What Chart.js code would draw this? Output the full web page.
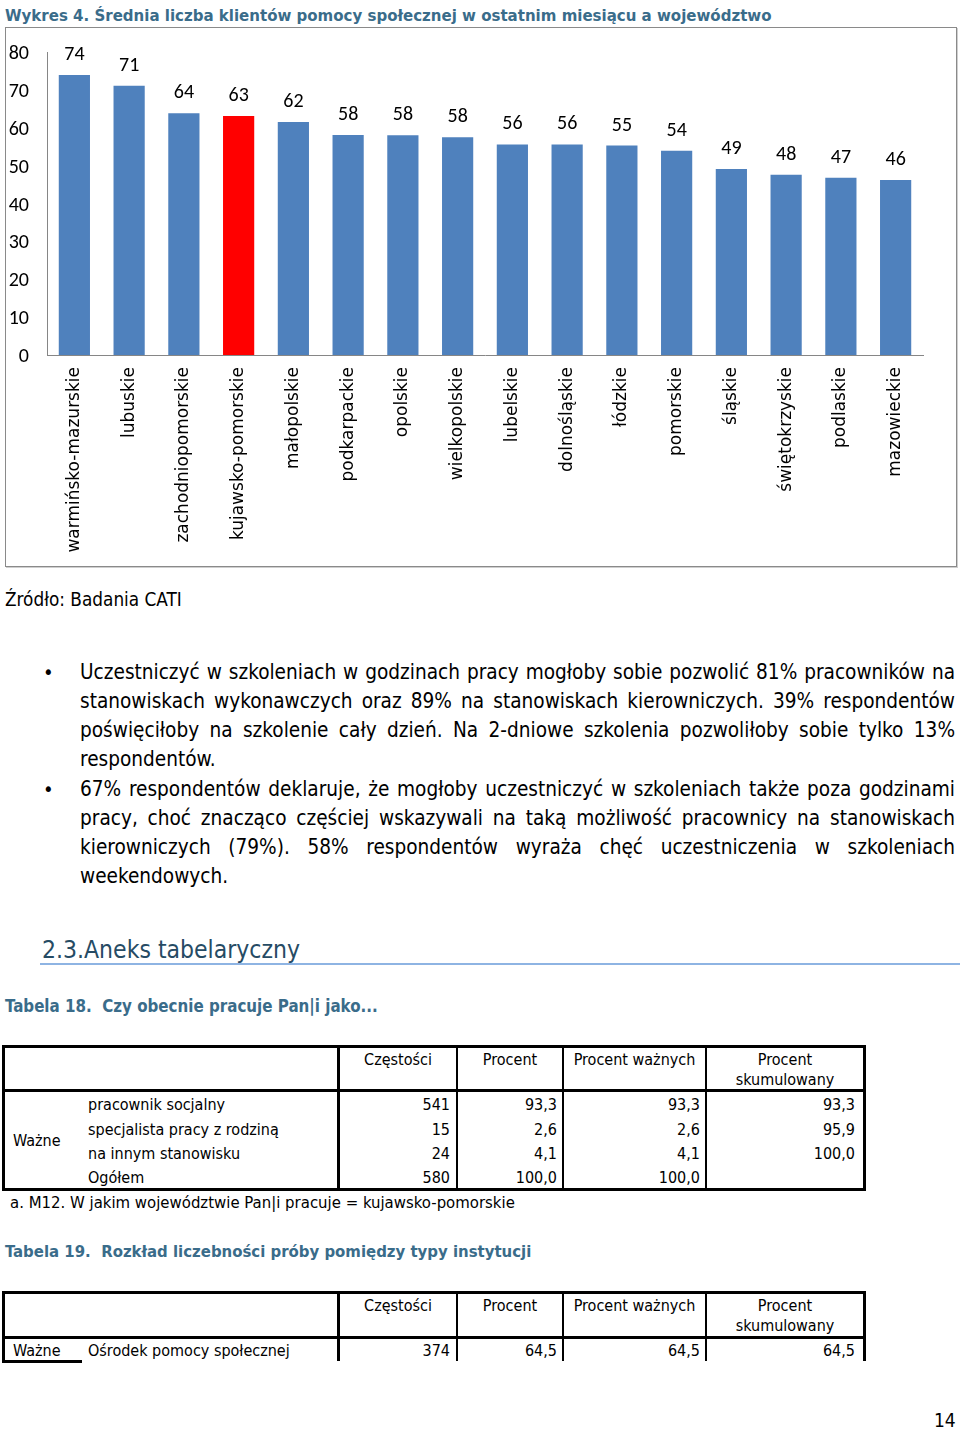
<!DOCTYPE html>
<html><head><meta charset="utf-8">
<script src="https://cdn.jsdelivr.net/npm/chart.js@4.4.1/dist/chart.umd.min.js"></script>
<style>
html,body{margin:0;padding:0;background:#fff;}
body{width:960px;height:1431px;position:relative;overflow:hidden;font-family:"DejaVu Sans",sans-serif;font-stretch:condensed;color:#000;}
.a{position:absolute;white-space:nowrap;}
.ttl{color:#3A6C8A;font-weight:bold;}
.frame{position:absolute;left:5px;top:27px;width:950px;height:538px;border:1px solid #8a8a8a;box-shadow:1px 1px 0 #cfcfcf;}
#cv{position:absolute;left:6px;top:28px;}
.ln{position:absolute;font-size:20.6px;line-height:29px;width:875px;left:80px;white-space:normal;}
.j{text-align:justify;text-align-last:justify;}
.bl{position:absolute;left:43px;font-size:20px;line-height:29px;}
.k{position:absolute;background:#000;}
.t{position:absolute;font-size:16px;line-height:20px;white-space:nowrap;}
.c{text-align:center;}
.r{text-align:right;}
</style></head><body>

<div class="a ttl" style="left:5px;top:5px;font-size:16.7px;line-height:20px;">Wykres 4. Średnia liczba klientów pomocy społecznej w ostatnim miesiącu a województwo</div>
<div class="frame"></div>
<canvas id="cv" width="950" height="538" style="width:950px;height:538px;"></canvas>

<div class="a" style="left:5px;top:589px;font-size:18.8px;line-height:22px;">Źródło: Badania CATI</div>

<div class="bl" style="top:658px;">•</div>
<div class="ln j" style="top:658px;">Uczestniczyć w szkoleniach w godzinach pracy mogłoby sobie pozwolić 81% pracowników na</div>
<div class="ln j" style="top:687px;">stanowiskach wykonawczych oraz 89% na stanowiskach kierowniczych. 39% respondentów</div>
<div class="ln j" style="top:716px;">poświęciłoby na szkolenie cały dzień. Na 2-dniowe szkolenia pozwoliłoby sobie tylko 13%</div>
<div class="ln" style="top:745px;">respondentów.</div>
<div class="bl" style="top:775px;">•</div>
<div class="ln j" style="top:775px;">67% respondentów deklaruje, że mogłoby uczestniczyć w szkoleniach także poza godzinami</div>
<div class="ln j" style="top:804px;">pracy, choć znacząco częściej wskazywali na taką możliwość pracownicy na stanowiskach</div>
<div class="ln j" style="top:833px;">kierowniczych (79%). 58% respondentów wyraża chęć uczestniczenia w szkoleniach</div>
<div class="ln" style="top:862px;">weekendowych.</div>

<div class="a" style="left:42px;top:934px;font-size:24.5px;line-height:32px;color:#264B64;">2.3.Aneks tabelaryczny</div>
<div class="a" style="left:40px;top:963px;width:920px;height:2px;background:#8EB4E3;"></div>

<div class="a ttl" style="left:5px;top:996px;font-size:16.8px;line-height:20px;">Tabela 18.&nbsp; Czy obecnie pracuje Pan|i jako...</div>

<!-- Table 18 -->
<div class="a" style="left:2px;top:1045px;width:864px;height:146px;border:3px solid #000;box-sizing:border-box;"></div>
<div class="k" style="left:2px;top:1089px;width:864px;height:3px;"></div>
<div class="k" style="left:337px;top:1045px;width:3px;height:146px;"></div>
<div class="k" style="left:456px;top:1045px;width:2px;height:146px;"></div>
<div class="k" style="left:562px;top:1045px;width:2px;height:146px;"></div>
<div class="k" style="left:705px;top:1045px;width:2px;height:146px;"></div>
<div class="t c" style="left:340px;width:116px;top:1050px;">Częstości</div>
<div class="t c" style="left:458px;width:104px;top:1050px;">Procent</div>
<div class="t c" style="left:564px;width:141px;top:1050px;">Procent ważnych</div>
<div class="t c" style="left:707px;width:156px;top:1050px;">Procent<br>skumulowany</div>
<div class="t" style="left:13px;top:1131px;">Ważne</div>
<div class="t" style="left:88px;top:1095px;">pracownik socjalny</div>
<div class="t" style="left:88px;top:1120px;">specjalista pracy z rodziną</div>
<div class="t" style="left:88px;top:1144px;">na innym stanowisku</div>
<div class="t" style="left:88px;top:1168px;">Ogółem</div>
<div class="t r" style="left:340px;width:110px;top:1095px;">541</div>
<div class="t r" style="left:340px;width:110px;top:1120px;">15</div>
<div class="t r" style="left:340px;width:110px;top:1144px;">24</div>
<div class="t r" style="left:340px;width:110px;top:1168px;">580</div>
<div class="t r" style="left:458px;width:99px;top:1095px;">93,3</div>
<div class="t r" style="left:458px;width:99px;top:1120px;">2,6</div>
<div class="t r" style="left:458px;width:99px;top:1144px;">4,1</div>
<div class="t r" style="left:458px;width:99px;top:1168px;">100,0</div>
<div class="t r" style="left:564px;width:136px;top:1095px;">93,3</div>
<div class="t r" style="left:564px;width:136px;top:1120px;">2,6</div>
<div class="t r" style="left:564px;width:136px;top:1144px;">4,1</div>
<div class="t r" style="left:564px;width:136px;top:1168px;">100,0</div>
<div class="t r" style="left:707px;width:148px;top:1095px;">93,3</div>
<div class="t r" style="left:707px;width:148px;top:1120px;">95,9</div>
<div class="t r" style="left:707px;width:148px;top:1144px;">100,0</div>
<div class="t" style="left:10px;top:1193px;font-size:16.6px;">a. M12. W jakim województwie Pan|i pracuje = kujawsko-pomorskie</div>

<div class="a ttl" style="left:5px;top:1242px;font-size:16.6px;line-height:20px;">Tabela 19.&nbsp; Rozkład liczebności próby pomiędzy typy instytucji</div>

<!-- Table 19 -->
<div class="k" style="left:2px;top:1291px;width:864px;height:3px;"></div>
<div class="k" style="left:2px;top:1336px;width:864px;height:3px;"></div>
<div class="k" style="left:2px;top:1291px;width:3px;height:72px;"></div>
<div class="k" style="left:2px;top:1360px;width:80px;height:3px;"></div>
<div class="k" style="left:337px;top:1291px;width:3px;height:70px;"></div>
<div class="k" style="left:456px;top:1291px;width:2px;height:70px;"></div>
<div class="k" style="left:562px;top:1291px;width:2px;height:70px;"></div>
<div class="k" style="left:705px;top:1291px;width:2px;height:70px;"></div>
<div class="k" style="left:863px;top:1291px;width:3px;height:70px;"></div>
<div class="t c" style="left:340px;width:116px;top:1296px;">Częstości</div>
<div class="t c" style="left:458px;width:104px;top:1296px;">Procent</div>
<div class="t c" style="left:564px;width:141px;top:1296px;">Procent ważnych</div>
<div class="t c" style="left:707px;width:156px;top:1296px;">Procent<br>skumulowany</div>
<div class="t" style="left:13px;top:1341px;">Ważne</div>
<div class="t" style="left:88px;top:1341px;">Ośrodek pomocy społecznej</div>
<div class="t r" style="left:340px;width:110px;top:1341px;">374</div>
<div class="t r" style="left:458px;width:99px;top:1341px;">64,5</div>
<div class="t r" style="left:564px;width:136px;top:1341px;">64,5</div>
<div class="t r" style="left:707px;width:148px;top:1341px;">64,5</div>

<div class="a" style="left:934px;top:1408px;font-size:19px;line-height:24px;">14</div>

<script>
// ---- chart data ----
const categories = [
  'warmińsko-mazurskie','lubuskie','zachodniopomorskie','kujawsko-pomorskie',
  'małopolskie','podkarpackie','opolskie','wielkopolskie','lubelskie',
  'dolnośląskie','łódzkie','pomorskie','śląskie','świętokrzyskie',
  'podlaskie','mazowieckie'
];
const values = [73.9, 71.1, 63.8, 63.1, 61.5, 58.1, 58.0, 57.5, 55.6, 55.6, 55.3, 53.9, 49.1, 47.6, 46.8, 46.2];
const highlighted = 'kujawsko-pomorskie';
const yTicks = [0, 10, 20, 30, 40, 50, 60, 70, 80];

const BLUE = '#4F81BD', RED = '#FF0000';
const numFont = '"Liberation Sans Narrow", Carlito, Lato, sans-serif';

const valueLabels = {
  id: 'valueLabels',
  afterDatasetsDraw(chart) {
    const ctx = chart.ctx;
    const meta = chart.getDatasetMeta(0);
    ctx.save();
    ctx.font = '20px ' + numFont;
    ctx.fillStyle = '#000';
    ctx.textAlign = 'center';
    ctx.textBaseline = 'middle';
    meta.data.forEach((bar, i) => {
      ctx.fillText(String(Math.round(values[i])), bar.x, bar.y - 20);
    });
    ctx.restore();
  }
};

new Chart(document.getElementById('cv'), {
  type: 'bar',
  data: {
    labels: categories,
    datasets: [{
      data: values,
      backgroundColor: categories.map(c => c === highlighted ? RED : BLUE),
      borderWidth: 0,
      barPercentage: 0.57,
      categoryPercentage: 1.0
    }]
  },
  options: {
    responsive: false,
    animation: false,
    events: [],
    layout: { padding: { left: 0, right: 33, top: 24, bottom: 0 } },
    plugins: { legend: { display: false }, tooltip: { enabled: false }, title: { display: false } },
    scales: {
      x: {
        grid: { display: false, drawTicks: false },
        border: { display: true, color: '#868686', width: 1 },
        ticks: {
          autoSkip: false, minRotation: 90, maxRotation: 90, padding: 12,
          color: '#000', font: { family: '"DejaVu Sans", sans-serif', size: 17 }
        },
        afterFit(scale) { scale.height = 211; }
      },
      y: {
        min: 0, max: 80,
        grid: { display: false, drawTicks: true, tickLength: 12 },
        border: { display: true, color: '#868686', width: 1 },
        afterBuildTicks(scale) { scale.ticks = yTicks.map(v => ({ value: v })); },
        ticks: { padding: 6, labelOffset: 2, color: '#000', font: { family: numFont, size: 20 } },
        afterFit(scale) { scale.width = 41; }
      }
    }
  },
  plugins: [valueLabels]
});
</script>
</body></html>
